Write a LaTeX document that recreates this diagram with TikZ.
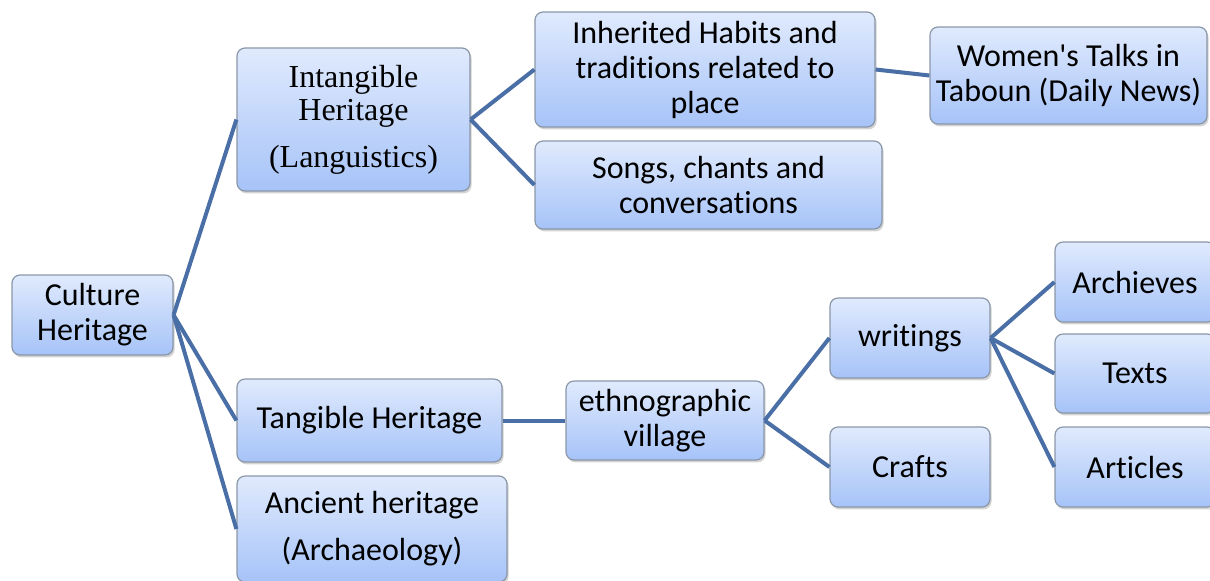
\documentclass[tikz,border=0pt]{standalone}
\usepackage{fontspec}
\setmainfont{Carlito}[RawFeature=-liga]
\newfontfamily\timesfont{Liberation Serif}
\usetikzlibrary{shadows}

\definecolor{boxtop}{HTML}{E0EAFD}
\definecolor{boxbottom}{HTML}{A6C3F8}
\definecolor{boxline}{HTML}{8A97A8}
\definecolor{linkblue}{HTML}{4A6FA6}

\tikzset{
  topic/.style={draw=boxline, line width=0.6pt, rounded corners=4pt,
    top color=boxtop, bottom color=boxbottom,
    drop shadow={shadow xshift=0.8pt, shadow yshift=-1.2pt, opacity=0.35},
    align=center, inner sep=0pt,
    font=\fontsize{16}{17.5}\selectfont},
  serif/.style={font=\timesfont\fontsize{16}{16.5}\selectfont},
  link/.style={draw=linkblue, line width=2pt},
}

\begin{document}
\begin{tikzpicture}[x=0.5pt,y=-0.5pt]
\useasboundingbox (0,0) rectangle (1210,580);
\def\smallw{80pt}
\def\smallh{40pt}

% root
\node[topic, minimum width=80.5pt, minimum height=\smallh] (culture) at (92.5,315) {Culture\\Heritage};

% first level
\node[topic, serif, minimum width=116.5pt, minimum height=71.5pt] (intangible) at (353.5,119.5) {Intangible\\Heritage\\[7pt](Languistics)};
\node[topic, minimum width=132.5pt, minimum height=41.5pt] (tangible) at (369.5,420.5) {Tangible Heritage};
\node[topic, minimum width=135pt, minimum height=53pt] (ancient) at (372,529) {Ancient heritage\\[6pt](Archaeology)};

% intangible branch
\node[topic, minimum width=170pt, minimum height=57.5pt] (habits) at (705,69.5) {Inherited Habits and\\traditions related to\\place};
\node[topic, minimum width=173.5pt, minimum height=44pt] (songs) at (708.5,185) {Songs, chants and\\conversations};
\node[topic, minimum width=138.5pt, minimum height=48.5pt] (talks) at (1068.5,75.5) {Women\textquotesingle s Talks in\\Taboun (Daily News)};

% tangible branch
\node[topic, minimum width=99pt, minimum height=39.5pt] (village) at (665,420.5) {ethnographic\\village};
\node[topic, minimum width=\smallw, minimum height=\smallh] (writings) at (910,338) {writings};
\node[topic, minimum width=\smallw, minimum height=\smallh] (crafts) at (910,467) {Crafts};
\node[topic, minimum width=\smallw, minimum height=\smallh] (archieves) at (1135,282) {Archieves};
\node[topic, minimum width=\smallw, minimum height=39.5pt] (texts) at (1135,373.5) {Texts};
\node[topic, minimum width=\smallw, minimum height=\smallh] (articles) at (1135,467) {Articles};

% connectors
\foreach \child in {intangible,tangible,ancient}
  \draw[link] (culture.east) -- (\child.west);
\foreach \child in {habits,songs}
  \draw[link] (intangible.east) -- (\child.west);
\draw[link] (habits.east) -- (talks.west);
\draw[link] (tangible.east) -- (village.west);
\foreach \child in {writings,crafts}
  \draw[link] (village.east) -- (\child.west);
\foreach \child in {archieves,texts,articles}
  \draw[link] (writings.east) -- (\child.west);

\end{tikzpicture}
\end{document}
